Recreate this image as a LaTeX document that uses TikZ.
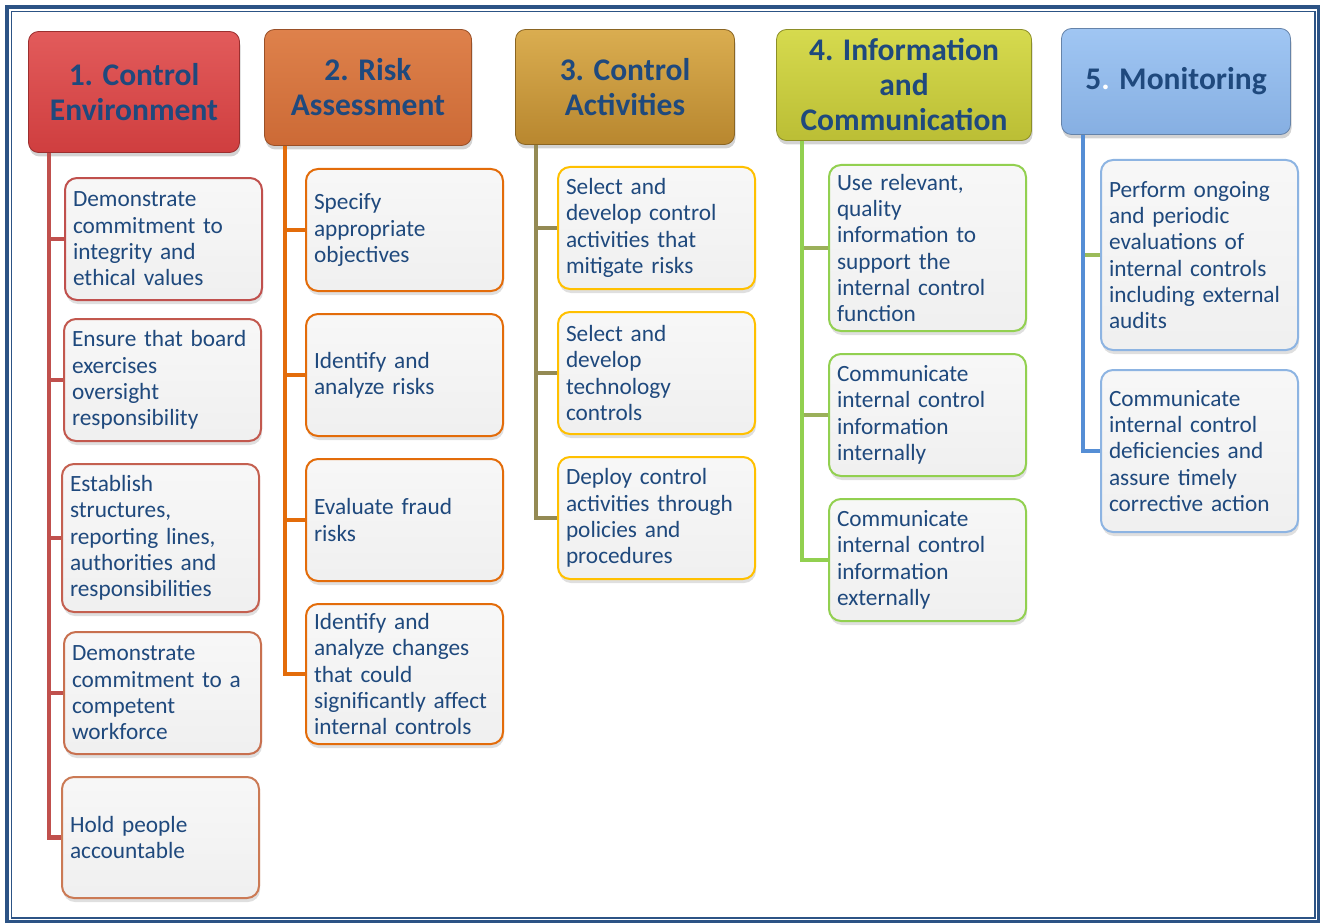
\documentclass[tikz,border=0pt]{standalone}
\usepackage{fontspec}
\setmainfont{Carlito}
\usetikzlibrary{shadows}
\definecolor{textblue}{HTML}{1F497D}
\definecolor{frameblue}{HTML}{2C5385}
\definecolor{hAtop}{HTML}{E25B5B}\definecolor{hAbot}{HTML}{CF3E3F}
\definecolor{hBtop}{HTML}{DE814B}\definecolor{hBbot}{HTML}{CC6A36}
\definecolor{hCtop}{HTML}{DAAD50}\definecolor{hCbot}{HTML}{B8872F}
\definecolor{hDtop}{HTML}{D6DA4E}\definecolor{hDbot}{HTML}{BBBE35}
\definecolor{hEtop}{HTML}{A0C6F3}\definecolor{hEbot}{HTML}{86AFE2}
\definecolor{lineA}{HTML}{C0504D}
\definecolor{lineB}{HTML}{E36C0A}
\definecolor{lineC}{HTML}{948A54}
\definecolor{lineD}{HTML}{92D050}
\definecolor{lineE}{HTML}{558ED5}
\definecolor{stubD}{HTML}{9BB05A}
\definecolor{stubE}{HTML}{9BBB59}
\definecolor{bA1}{HTML}{C0504D}\definecolor{bA2}{HTML}{C2584E}
\definecolor{bA3}{HTML}{C46050}\definecolor{bA4}{HTML}{C8704F}
\definecolor{bA5}{HTML}{CB7A55}
\definecolor{bordB}{HTML}{E36C0A}
\definecolor{bordC}{HTML}{FFC000}
\definecolor{bordD}{HTML}{92D050}
\definecolor{bordE}{HTML}{8DB4E2}
\tikzset{
    head/.style 2 args={draw=#2!75!black, line width=0.8pt, rounded corners=10pt, top color=#1, bottom color=#2, text=textblue, font=\fontsize{31.5}{35}\selectfont\bfseries, align=center, drop shadow={shadow xshift=1pt, shadow yshift=-4pt, opacity=0.35}}, % header box
    item/.style={draw=#1, line width=2pt, rounded corners=12pt, top color=white!97!black, bottom color=white!94!black, text=textblue, font=\fontsize{23.3}{26.3}\selectfont, align=left, text width=181pt, inner xsep=8pt, inner ysep=2pt, anchor=west, drop shadow={shadow xshift=1pt, shadow yshift=-4pt, opacity=0.25}}, % text box
    trunk/.style={draw=#1, line width=4.5pt, line join=miter} % connector
}

\begin{document}
\begin{tikzpicture}[x=1pt, y=-1pt]
    \useasboundingbox (0,0) rectangle (1320,923);
    \draw[frameblue, line width=4pt] (7,7) rectangle (1319,921.5);
    \draw[frameblue, line width=1.2pt] (11.5,11.5) rectangle (1315,918);

    \node[head={hAtop}{hAbot}, minimum width=211pt, minimum height=121pt] (h1) at (134,92) {1. Control\\Environment};
    \node[head={hBtop}{hBbot}, minimum width=207pt, minimum height=116pt] (h2) at (368,87.5) {2. Risk\\Assessment};
    \node[head={hCtop}{hCbot}, minimum width=219pt, minimum height=115pt] (h3) at (625,87) {3. Control\\Activities};
    \node[head={hDtop}{hDbot}, minimum width=255pt, minimum height=111pt] (h4) at (904,85) {4. Information\\and\\Communication};
    \node[head={hEtop}{hEbot}, minimum width=229pt, minimum height=106pt] (h5) at (1176,81.5) {5\textcolor{white}{.} Monitoring};

    \coordinate (t1) at ([xshift=21pt]h1.south west);
    \coordinate (t2) at ([xshift=21pt]h2.south west);
    \coordinate (t3) at ([xshift=21pt]h3.south west);
    \coordinate (t4) at ([xshift=26pt]h4.south west);
    \coordinate (t5) at ([xshift=22pt]h5.south west);

    \foreach \lx/\cy/\h/\bc/\txt [count=\i] in {
        64/239/122/bA1/{Demonstrate\\commitment to\\integrity and\\ethical values},
        63/380/122/bA2/{Ensure that board\\exercises\\oversight\\responsibility},
        61/538/148/bA3/{Establish\\structures,\\reporting lines,\\authorities and\\responsibilities},
        63/693/122/bA4/{Demonstrate\\commitment to a\\competent\\workforce},
        61/837.5/121/bA5/{Hold people\\accountable}
    } {
        \node[item=\bc, minimum height=\h pt] (c1-\i) at (\lx,\cy) {\txt};
        \draw[trunk=lineA] (t1) |- (c1-\i.west);
    }

    \foreach \cy/\h/\txt [count=\i] in {
        230/122/{Specify\\appropriate\\objectives},
        375/122/{Identify and\\analyze risks},
        520/122/{Evaluate fraud\\risks},
        674/140/{Identify and\\analyze changes\\that could\\significantly affect\\internal controls}
    } {
        \node[item=bordB, minimum height=\h pt] (c2-\i) at (305,\cy) {\txt};
        \draw[trunk=lineB] (t2) |- (c2-\i.west);
    }

    \foreach \cy/\txt [count=\i] in {
        228/{Select and\\develop control\\activities that\\mitigate risks},
        373/{Select and\\develop\\technology\\controls},
        518/{Deploy control\\activities through\\policies and\\procedures}
    } {
        \node[item=bordC, minimum height=122pt] (c3-\i) at (557,\cy) {\txt};
        \draw[trunk=lineC] (t3) |- (c3-\i.west);
    }

    \foreach \cy/\h/\sc/\txt [count=\i] in {
        248/166/stubD/{Use relevant,\\quality\\information to\\support the\\internal control\\function},
        415/122/stubD/{Communicate\\internal control\\information\\internally},
        560/122/lineD/{Communicate\\internal control\\information\\externally}
    } {
        \node[item=bordD, minimum height=\h pt] (c4-\i) at (828,\cy) {\txt};
        \draw[trunk=lineD] (t4) |- (c4-\i.west);
        \draw[trunk=\sc, shorten >=2pt] (c4-\i.west) -- (c4-\i.west -| t4);
    }

    \foreach \cy/\h/\sc/\txt [count=\i] in {
        255/190/stubE/{Perform ongoing\\and periodic\\evaluations of\\internal controls\\including external\\audits},
        451/162/lineE/{Communicate\\internal control\\deficiencies and\\assure timely\\corrective action}
    } {
        \node[item=bordE, minimum height=\h pt] (c5-\i) at (1100,\cy) {\txt};
        \draw[trunk=lineE] (t5) |- (c5-\i.west);
        \draw[trunk=\sc, shorten >=2pt] (c5-\i.west) -- (c5-\i.west -| t5);
    }
\end{tikzpicture}
\end{document}
